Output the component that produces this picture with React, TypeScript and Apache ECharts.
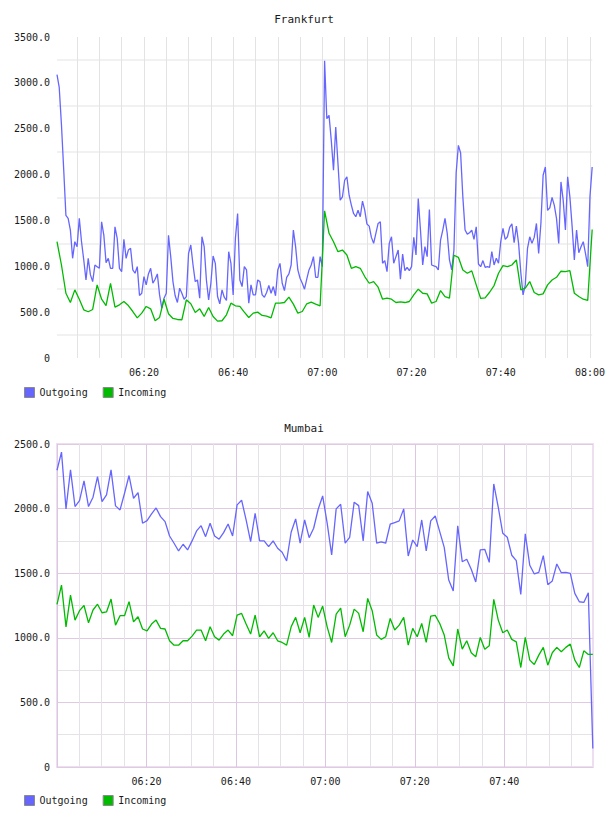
import React, { useEffect, useRef } from 'react';
import * as echarts from 'echarts';

const FONT = '"DejaVu Sans Mono", monospace';
const TEXT = '#1a1a1a';
const BLUE = '#6666ff';
const GREEN = '#00bb00';
const MINUTE = 60 * 1000;

const seriesNames = ['Outgoing', 'Incoming'];
const cityTitles = ['Frankfurt', 'Mumbai'];

// Frankfurt: outgoing sampled every 30 s, incoming every minute, from 06:00:30
const frankfurtStart = new Date(2024, 0, 1, 6, 0, 30).getTime();
const frankfurtEnd = new Date(2024, 0, 1, 8, 0, 30).getTime();
const frankfurtOutgoingStep = 30 * 1000;
const frankfurtIncomingStep = 60 * 1000;

const frankfurtOutgoing = [
  3090, 2950, 2543, 2058, 1554, 1522, 1395, 1087, 1268, 1214,
  1522, 1268, 1069, 851, 1087, 906, 833, 1014, 996, 978,
  1485, 1340, 1040, 1087, 978, 978, 1431, 1304, 978, 942,
  1293, 1087, 1177, 1196, 960, 924, 996, 681, 706, 888,
  797, 917, 978, 815, 859, 917, 688, 543, 652, 706,
  1337, 1105, 833, 678, 605, 761, 706, 641, 670, 1141,
  1232, 1014, 833, 851, 652, 1322, 1214, 851, 634, 815,
  1112, 1032, 670, 591, 743, 663, 627, 1159, 1032, 688,
  1304, 1576, 851, 779, 996, 960, 598, 797, 688, 688,
  851, 833, 688, 663, 714, 790, 706, 779, 678, 960,
  1032, 815, 735, 880, 917, 1014, 1395, 1214, 960, 870,
  815, 750, 859, 960, 1014, 1105, 880, 880, 1105, 996,
  3240, 2609, 2645, 2373, 2047, 2518, 2120, 1721, 1757, 1938,
  1975, 1775, 1667, 1576, 1540, 1612, 1540, 1710, 1612, 1460,
  1438, 1315, 1250, 1359, 1467, 1485, 1033, 1062, 942, 1250,
  1322, 1033, 1105, 1177, 859, 1134, 953, 989, 953, 996,
  1315, 1123, 1739, 1395, 1014, 1214, 1105, 1620, 1014, 1004,
  996, 960, 1286, 1395, 1522, 1359, 1069, 960, 1177, 2018,
  2319, 2235, 1757, 1395, 1351, 1366, 1395, 1293, 1431, 1025,
  996, 1062, 989, 996, 989, 1159, 1014, 1087, 1033, 1268,
  1413, 1293, 1322, 1424, 1464, 1257, 1438, 1250, 931, 688,
  797, 1196, 1322, 1250, 1315, 1467, 1141, 1467, 1993, 2083,
  1609, 1638, 1750, 1667, 1522, 1250, 1920, 1721, 1395, 1975,
  1757, 1438, 1069, 1395, 1148, 1214, 1268, 1141, 996, 1757,
  2083,
];

const frankfurtIncoming = [
  1268, 1014, 706, 605, 743, 641, 525, 504, 529, 797,
  641, 572, 815, 554, 580, 616, 572, 507, 438, 489,
  562, 536, 406, 442, 641, 482, 431, 420, 417, 634,
  591, 496, 536, 453, 551, 453, 402, 406, 471, 598,
  569, 562, 500, 442, 489, 500, 464, 456, 438, 598,
  598, 605, 663, 587, 489, 507, 591, 609, 587, 569,
  1605, 1360, 1268, 1159, 1177, 1123, 978, 996, 978, 888,
  815, 833, 772, 641, 652, 641, 605, 612, 605, 616,
  688, 750, 706, 699, 598, 616, 735, 670, 652, 1120,
  1098, 960, 924, 950, 797, 649, 656, 717, 790, 924,
  1007, 996, 1014, 1069, 743, 761, 833, 714, 688, 699,
  797, 851, 880, 946, 942, 953, 706, 670, 641, 627,
  1402,
];

// Mumbai: one sample roughly every minute from 06:00
const mumbaiStart = new Date(2024, 0, 1, 6, 0, 0).getTime();
const mumbaiEnd = new Date(2024, 0, 1, 7, 59, 50).getTime();
const mumbaiStep = 60400;

const mumbaiOutgoing = [
  2297, 2437, 1998, 2300, 2016, 2062, 2215, 2016, 2088, 2248,
  2054, 2106, 2300, 2021, 1990, 2119, 2256, 2080, 2124, 1887,
  1907, 1959, 2005, 1938, 1899, 1788, 1732, 1672, 1724, 1680,
  1750, 1827, 1868, 1783, 1887, 1788, 1763, 1814, 1881, 1788,
  2029, 2065, 1912, 1744, 1964, 1750, 1750, 1705, 1750, 1693,
  1662, 1595, 1817, 1920, 1732, 1912, 1775, 1848, 1995, 2098,
  1887, 1641, 1998, 2034, 1732, 1778, 2050, 2023, 1750, 2132,
  2042, 1732, 1742, 1732, 1879, 1892, 1905, 1998, 1633, 1757,
  1705, 1912, 1672, 1905, 1943, 1822, 1700, 1447, 1362, 1866,
  1589, 1608, 1530, 1432, 1680, 1685, 1584, 2191, 2010, 1809,
  1778, 1639, 1597, 1336, 1804, 1561, 1494, 1507, 1636, 1411,
  1440, 1571, 1504, 1507, 1499, 1344, 1279, 1274, 1349, 143,
];

const mumbaiIncoming = [
  1259, 1408, 1085, 1330, 1137, 1210, 1250, 1116, 1215, 1260,
  1194, 1200, 1300, 1098, 1171, 1171, 1280, 1124, 1163, 1068,
  1054, 1106, 1137, 1073, 1068, 977, 943, 943, 977, 977,
  1013, 1060, 1060, 977, 1085, 1008, 982, 1029, 1060, 1016,
  1176, 1189, 1106, 1029, 1176, 1008, 1054, 995, 1039, 977,
  964, 943, 1085, 1158, 1039, 1158, 1003, 1254, 1158, 1246,
  1085, 964, 1184, 1230, 1008, 1098, 1222, 1189, 1047, 1305,
  1210, 1021, 988, 1008, 1150, 1060, 1098, 1158, 943, 1073,
  1008, 1111, 964, 1168, 1174, 1111, 1021, 845, 783, 1068,
  912, 977, 884, 853, 1003, 912, 938, 1298, 1137, 1039,
  1060, 988, 969, 770, 1003, 827, 794, 866, 926, 788,
  884, 926, 892, 926, 951, 827, 770, 899, 871, 871,
];

const timed = (start: number, step: number, values: number[]) =>
  values.map((v, i) => [start + i * step, v]);

const pad = (n: number) => String(n).padStart(2, '0');

// Labels only on whole 20-minute marks strictly inside the axis range
const timeLabelAfter = (axisMin: number) => (value: number) => {
  if (value <= axisMin) return '';
  const d = new Date(value);
  if (d.getSeconds() !== 0 || d.getMinutes() % 20 !== 0) return '';
  return pad(d.getHours()) + ':' + pad(d.getMinutes());
};

const valueLabel = (v: number) => {
  if (v % 500 !== 0) return '';
  return v === 0 ? '0' : v.toFixed(1);
};

const labelText = { fontFamily: FONT, fontSize: 10, color: TEXT };

const titleStyle = { fontFamily: FONT, fontSize: 11, fontWeight: 'normal' as const, color: TEXT };

const legendBase = {
  left: 24,
  padding: 0,
  itemWidth: 10,
  itemHeight: 10,
  itemGap: 15,
  icon: 'rect',
  data: seriesNames,
  textStyle: { ...labelText, padding: [0, 0, 0, 0] },
  itemStyle: { borderColor: '#8a8a8a', borderWidth: 1 },
};

const lineSeries = (name: string, color: string, data: number[][], xAxisIndex: number, yAxisIndex: number) => ({
  name,
  type: 'line',
  xAxisIndex,
  yAxisIndex,
  data,
  showSymbol: false,
  symbol: 'none',
  lineStyle: { width: 1.3, color },
  itemStyle: { color },
  emphasis: { disabled: true },
});

export default function App() {
  const ref = useRef<HTMLDivElement>(null);

  useEffect(() => {
    if (!ref.current) return;
    const chart = echarts.init(ref.current, undefined, { renderer: 'svg' });

    const option = {
      animation: false,
      backgroundColor: '#ffffff',
      textStyle: { fontFamily: FONT },
      title: [
        { text: cityTitles[0], left: 'center', top: 14, padding: 0, textStyle: titleStyle },
        { text: cityTitles[1], left: 'center', top: 423, padding: 0, textStyle: titleStyle },
      ],
      legend: [
        { ...legendBase, top: 387 },
        { ...legendBase, top: 795 },
      ],
      grid: [
        { left: 57, right: 15, top: 37, height: 321, show: false },
        {
          left: 57,
          right: 15,
          top: 444,
          height: 323,
          show: true,
          borderColor: '#eddff0',
          borderWidth: 2,
          backgroundColor: 'transparent',
        },
      ],
      xAxis: [
        {
          gridIndex: 0,
          type: 'time',
          min: frankfurtStart,
          max: frankfurtEnd,
          minInterval: 5.5 * MINUTE,
          maxInterval: 5.5 * MINUTE,
          axisLine: { show: false },
          axisTick: { show: false },
          axisLabel: {
            ...labelText,
            margin: 9,
            formatter: timeLabelAfter(frankfurtStart),
            showMinLabel: false,
            hideOverlap: false,
          },
          splitLine: {
            show: true,
            showMinLine: false,
            showMaxLine: false,
            lineStyle: { color: '#e3e3e3', width: 1 },
          },
        },
        {
          gridIndex: 1,
          type: 'time',
          position: 'top',
          min: mumbaiStart,
          max: mumbaiEnd,
          minInterval: 5.5 * MINUTE,
          maxInterval: 5.5 * MINUTE,
          axisLine: { show: false },
          axisTick: { show: false },
          axisLabel: { show: false },
          splitLine: {
            show: true,
            showMinLine: false,
            showMaxLine: false,
            lineStyle: { color: '#e6e0e8', width: 1 },
          },
        },
        {
          gridIndex: 1,
          type: 'time',
          position: 'bottom',
          z: 2,
          min: mumbaiStart,
          max: mumbaiEnd,
          minInterval: 20.5 * MINUTE,
          maxInterval: 20.5 * MINUTE,
          axisLine: { show: false },
          axisTick: { show: false },
          axisLabel: {
            ...labelText,
            margin: 9,
            formatter: timeLabelAfter(mumbaiStart),
            showMinLabel: false,
            hideOverlap: false,
          },
          splitLine: {
            show: true,
            showMaxLine: false,
            lineStyle: { color: '#dcc6e1', width: 1 },
          },
        },
      ],
      yAxis: [
        {
          gridIndex: 0,
          type: 'value',
          min: 0,
          max: 3500,
          interval: 250,
          axisLine: { show: false },
          axisTick: { show: false },
          axisLabel: { ...labelText, margin: 7, formatter: valueLabel },
          splitLine: {
            show: true,
            lineStyle: { color: ['rgba(0,0,0,0)', '#f1f1f1'], width: 2 },
          },
        },
        {
          gridIndex: 1,
          type: 'value',
          min: 0,
          max: 2500,
          interval: 250,
          axisLine: { show: false },
          axisTick: { show: false },
          axisLabel: { ...labelText, margin: 7, formatter: valueLabel },
          splitLine: {
            show: true,
            lineStyle: { color: ['#dfc9e3', '#e5e3e6'], width: 1 },
          },
        },
      ],
      series: [
        lineSeries(seriesNames[0], BLUE, timed(frankfurtStart, frankfurtOutgoingStep, frankfurtOutgoing), 0, 0),
        lineSeries(seriesNames[1], GREEN, timed(frankfurtStart, frankfurtIncomingStep, frankfurtIncoming), 0, 0),
        lineSeries(seriesNames[0], BLUE, timed(mumbaiStart, mumbaiStep, mumbaiOutgoing), 2, 1),
        lineSeries(seriesNames[1], GREEN, timed(mumbaiStart, mumbaiStep, mumbaiIncoming), 2, 1),
      ],
    };

    chart.setOption(option as any);
    return () => chart.dispose();
  }, []);

  return (
    <div
      ref={ref}
      style={{ position: 'fixed', left: 0, top: 0, width: 608, height: 816, background: '#ffffff' }}
    />
  );
}
